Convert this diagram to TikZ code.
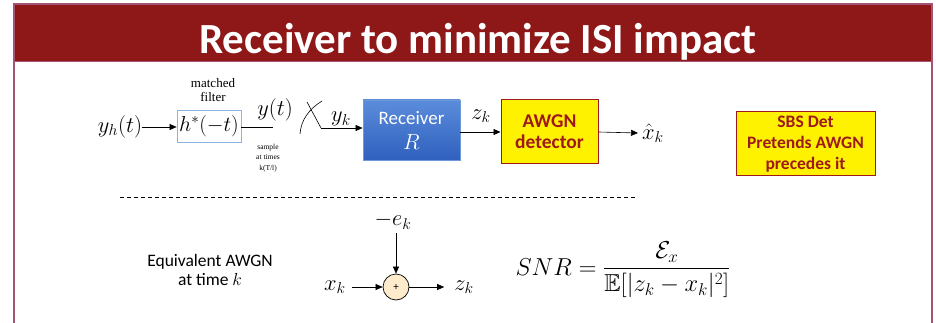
\RequirePackage{fix-cm}
\documentclass[tikz,border=0pt]{standalone}
\usepackage{amsmath,amssymb}
\usepackage{fontspec}
\setmainfont{Liberation Serif}
\setsansfont{Carlito}
\usetikzlibrary{arrows.meta,shapes.geometric}
\definecolor{hdr}{HTML}{8E1818}
\definecolor{frm}{HTML}{A35475}
\definecolor{mfblue}{HTML}{8DB3E2}
\definecolor{rxtop}{HTML}{5B8CDB}
\definecolor{rxbot}{HTML}{2F60BE}
\definecolor{rxedge}{HTML}{7099D8}
\definecolor{dred}{HTML}{9E1A1A}
\definecolor{sumfill}{HTML}{FDEBCB}
\tikzset{
  mathlbl/.style={font=\fontsize{22.5}{24}\selectfont, inner sep=0pt},
  arr/.style={-{Triangle[length=7pt,width=6pt]}, line width=0.6pt},
  wire/.style={line width=0.6pt},
  mfbox/.style={draw=mfblue, line width=0.8pt, fill=white, minimum width=64pt, minimum height=32pt, inner sep=0pt, font=\fontsize{21.5}{22}\selectfont},
  rxbox/.style={draw=rxedge, line width=0.8pt, top color=rxtop, bottom color=rxbot, minimum width=97pt, minimum height=60pt, inner sep=0pt, text=white, align=center, font=\sffamily\fontsize{19}{24}\selectfont},
  ybox/.style={draw=dred, line width=1pt, fill=yellow, inner sep=0pt, text=dred, align=center, font=\sffamily\bfseries\fontsize{19.5}{21}\selectfont},
  serifsmall/.style={font=\fontsize{13}{14}\selectfont, align=center, inner sep=0pt},
  sumnode/.style={circle, draw, line width=0.7pt, fill=sumfill, minimum size=26pt, inner sep=0pt, font=\sffamily\fontsize{11}{12}\selectfont},
}
\begin{document}
\begin{tikzpicture}[x=1pt,y=-1pt]
\useasboundingbox (0,0) rectangle (936,323);
% frame and header
\fill[hdr] (14,4) rectangle (932,61);
\draw[frm, line width=1.6pt] (14,330) -- (14,4) -- (932,4) -- (932,330);
\draw[frm, line width=0.6pt] (14,61) -- (932,61);
\node[font=\sffamily\bfseries\fontsize{43}{45}\selectfont, text=white, anchor=base, inner sep=0pt] (title) at (478,54) {Receiver to minimize ISI impact};
% top chain
\node[mathlbl] (yh) at (120,127) {$y_h(t)$};
\node[mfbox] (mf) at (209,126) {$h^*(-t)$};
\node[serifsmall] (mft) at (213,90) {matched\\filter};
\draw[arr] (yh.east) -- (mf.west |- yh.east);
\coordinate (mfend) at (273,127);
\draw[wire] (mf.east |- mfend) -- (mfend);
\node[mathlbl] (yt) at (275,110) {$y(t)$};
\node[font=\fontsize{7.5}{10.5}\selectfont, align=center, inner sep=0pt] (smp) at (268,158) {sample\\at times\\k(T/l)};
\node[rxbox] (rx) at (411.5,130) {Receiver\\[1pt]{\fontsize{22}{24}\selectfont$R$}};
\coordinate (sw1) at (307,102);
\coordinate (sw2) at (321,128);
\draw[wire] (sw1) -- (sw2);
\draw[arr] (sw2) -- (rx.west |- sw2);
\draw[wire] (322,101) .. controls (309,109) and (301,120) .. (300,134);
\node[mathlbl] (yk) at (341,119) {$y_k$};
\node[ybox, minimum width=97pt, minimum height=64pt] (awgn) at (549.5,132) {AWGN\\detector};
\node[mathlbl] (zk1) at (481,116) {$z_k$};
\draw[arr] (rx.east |- awgn.west) -- (awgn.west);
\node[mathlbl] (xhat) at (653,133) {$\hat{x}_k$};
\draw[arr] (awgn.east) -- ([xshift=-4pt]xhat.west);
\node[ybox, minimum width=139pt, minimum height=64pt, font=\sffamily\bfseries\fontsize{17.5}{21}\selectfont] (sbs) at (805.5,144) {SBS Det\\Pretends AWGN\\precedes it};
% separator
\draw[dash pattern=on 4pt off 3pt, line width=0.6pt] (120,197) -- (637,197);
% bottom
\node[font=\sffamily\fontsize{17.5}{19.5}\selectfont, align=center, inner sep=0pt] (eq) at (210,270) {Equivalent AWGN\\at time $k$};
\node[sumnode] (sum) at (396,287) {+};
\node[mathlbl] (xk) at (335,287) {$x_k$};
\node[mathlbl] (zk2) at (464,287) {$z_k$};
\node[mathlbl] (ek) at (393,221) {$-e_k$};
\draw[arr, shorten <=6pt] (xk.east) -- (sum.west);
\draw[arr, shorten >=10pt] (sum.east) -- (zk2.west);
\draw[arr, shorten <=4pt] (ek.south -| sum.north) -- (sum.north);
\node[font=\fontsize{24.5}{26}\selectfont, inner sep=0pt, anchor=base] (snr) at (623,275) {$SNR=\dfrac{\mathcal{E}_x}{\mathbb{E}[|z_k-x_k|^2]}$};
\end{tikzpicture}
\end{document}
